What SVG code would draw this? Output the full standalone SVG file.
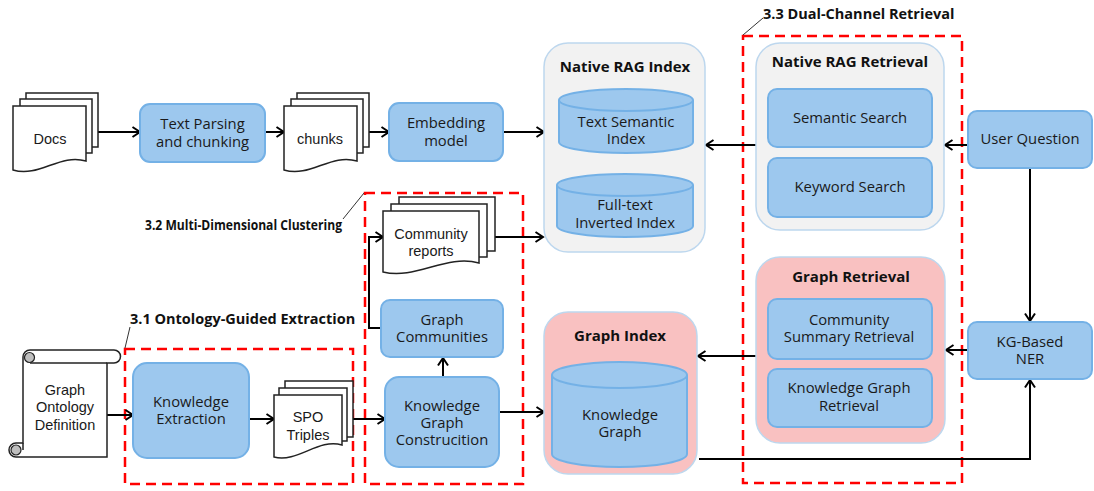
<svg xmlns="http://www.w3.org/2000/svg" width="1094" height="491" viewBox="0 0 1094 491">
<defs>
<style>
.box{fill:#9DC8EE;stroke:#74B1E6;stroke-width:2}
.cont{fill:#F2F2F2;stroke:#BDD7EE;stroke-width:1.5}
.pink{fill:#F9C1C1;stroke:#BDD7EE;stroke-width:1.5}
.doc{fill:#fff;stroke:#222;stroke-width:1.5}
.dash{fill:none;stroke:#FF0000;stroke-width:2.5;stroke-dasharray:10 6}
.t{font-family:"Open Sans","Noto Sans",sans-serif;font-size:14.8px;fill:#1a1a1a;text-anchor:middle}
.b{font-family:"Open Sans","Noto Sans",sans-serif;font-size:15px;font-weight:bold;fill:#111;text-anchor:middle}
.lbl{font-family:"Open Sans","Noto Sans",sans-serif;font-size:14.5px;font-weight:bold;fill:#111}
.d{font-family:"Liberation Sans",Arial,sans-serif;font-size:14.5px;fill:#1a1a1a;text-anchor:middle}
.c{fill:none;stroke:#000;stroke-width:2;marker-end:url(#ah)}
.lead{fill:none;stroke:#333;stroke-width:1}
</style>
<marker id="ah" markerWidth="12" markerHeight="12" refX="10" refY="6" orient="auto" markerUnits="userSpaceOnUse">
<path d="M2.5,1 L10,6 L2.5,11" fill="none" stroke="#000" stroke-width="2"/>
</marker>
</defs>
<rect width="1094" height="491" fill="#fff"/>

<!-- section frames -->
<g id="sections">
<rect class="dash" x="125" y="349" width="228" height="135"/>
<rect class="dash" x="365" y="193" width="158" height="291"/>
<rect class="dash" x="743" y="36" width="219" height="447"/>
<line class="lead" x1="125" y1="348" x2="130" y2="327"/>
<line class="lead" x1="343" y1="219" x2="364" y2="193"/>
<line class="lead" x1="743" y1="35" x2="763" y2="18"/>
<text class="lbl" x="130" y="324">3.1 Ontology-Guided Extraction</text>
<text class="lbl" x="145" y="230" font-size="13.8" textLength="197" lengthAdjust="spacingAndGlyphs">3.2 Multi-Dimensional Clustering</text>
<text class="lbl" x="763" y="19">3.3 Dual-Channel Retrieval</text>
</g>

<!-- connectors -->
<g id="connectors">
<line class="c" x1="98" y1="132" x2="140" y2="132"/>
<line class="c" x1="265" y1="132" x2="284" y2="132"/>
<line class="c" x1="369" y1="132" x2="389" y2="132"/>
<line class="c" x1="503" y1="132" x2="544" y2="132"/>
<line class="c" x1="495" y1="237" x2="543" y2="237"/>
<line class="c" x1="756" y1="145" x2="706" y2="145"/>
<line class="c" x1="968" y1="145" x2="945" y2="145"/>
<line class="c" x1="1030" y1="168" x2="1030" y2="321"/>
<line class="c" x1="968" y1="350" x2="946" y2="350"/>
<line class="c" x1="756" y1="356" x2="698" y2="356"/>
<polyline class="c" points="699,459 1030,459 1030,380"/>
<line class="c" x1="107" y1="415" x2="133" y2="415"/>
<line class="c" x1="249" y1="419" x2="274" y2="419"/>
<line class="c" x1="353" y1="419" x2="385" y2="419"/>
<line class="c" x1="443" y1="377" x2="443" y2="358"/>
<polyline class="c" points="381,328 369,328 369,237 383,237"/>
<line class="c" x1="499" y1="412" x2="544" y2="412"/>
</g>

<g id="docs">
<rect class="doc" x="26" y="93" width="72" height="54"/>
<rect class="doc" x="20" y="99" width="72" height="54"/>
<path class="doc" d="M13,106 H86 V161 C60,153 39,178 13,170 Z"/>
<text class="d" x="50" y="144">Docs</text>
</g>

<g id="text-parsing">
<rect class="box" x="140" y="104" width="125" height="58" rx="10"/>
<text class="t" x="202.5" y="129">Text Parsing</text>
<text class="t" x="202.5" y="147">and chunking</text>
</g>

<g id="chunks">
<rect class="doc" x="297" y="93" width="72" height="54"/>
<rect class="doc" x="291" y="99" width="72" height="54"/>
<path class="doc" d="M284,106 H357 V161 C331,153 310,178 284,170 Z"/>
<text class="d" x="320" y="144">chunks</text>
</g>

<g id="embedding">
<rect class="box" x="389" y="103" width="114" height="58" rx="10"/>
<text class="t" x="446" y="128">Embedding</text>
<text class="t" x="446" y="146">model</text>
</g>

<g id="native-rag-index">
<rect class="cont" x="544" y="43" width="161" height="209" rx="24"/>
<text class="b" x="625" y="72">Native RAG Index</text>
<path class="box" d="M559,100 A67,11 0 0 1 693,100 V142 A67,11 0 0 1 559,142 Z"/>
<path class="box" d="M559,100 A67,11 0 0 0 693,100"/>
<text class="t" x="626" y="127">Text Semantic</text>
<text class="t" x="626" y="144">Index</text>
<path class="box" d="M557,185 A68,11 0 0 1 693,185 V226 A68,11 0 0 1 557,226 Z"/>
<path class="box" d="M557,185 A68,11 0 0 0 693,185"/>
<text class="t" x="625" y="210">Full-text</text>
<text class="t" x="625" y="228">Inverted Index</text>
</g>

<g id="native-rag-retrieval">
<rect class="cont" x="756" y="43" width="188" height="187" rx="24"/>
<text class="b" x="850" y="67">Native RAG Retrieval</text>
<rect class="box" x="768" y="89" width="164" height="58" rx="9"/>
<text class="t" x="850" y="123">Semantic Search</text>
<rect class="box" x="768" y="158" width="164" height="59" rx="9"/>
<text class="t" x="850" y="192">Keyword Search</text>
</g>

<g id="user-question">
<rect class="box" x="968" y="111" width="124" height="57" rx="9"/>
<text class="t" x="1030" y="144">User Question</text>
</g>

<g id="graph-retrieval">
<rect class="pink" x="756" y="257" width="189" height="186" rx="24"/>
<text class="b" x="851" y="282">Graph Retrieval</text>
<rect class="box" x="768" y="299" width="164" height="60" rx="9"/>
<text class="t" x="849" y="325">Community</text>
<text class="t" x="849" y="342">Summary Retrieval</text>
<rect class="box" x="768" y="369" width="164" height="58" rx="9"/>
<text class="t" x="849" y="393">Knowledge Graph</text>
<text class="t" x="849" y="411">Retrieval</text>
</g>

<g id="kg-ner">
<rect class="box" x="968" y="322" width="124" height="57" rx="9"/>
<text class="t" x="1030" y="347">KG-Based</text>
<text class="t" x="1030" y="364">NER</text>
</g>

<g id="graph-index">
<rect class="pink" x="544" y="312" width="153" height="162" rx="24"/>
<text class="b" x="620" y="341">Graph Index</text>
<path class="box" d="M552,375 A67.5,13 0 0 1 687,375 V454 A67.5,13 0 0 1 552,454 Z"/>
<path class="box" d="M552,375 A67.5,13 0 0 0 687,375"/>
<text class="t" x="620" y="420">Knowledge</text>
<text class="t" x="620" y="437">Graph</text>
</g>

<g id="ontology">
<path class="doc" d="M30,350 H114 A6.5,6.5 0 0 1 114,363 H107 V457 H16 A7,7 0 0 1 16,443 H23 V357 A7,7 0 0 1 30,350 Z"/>
<path d="M30,363 H107" fill="none" stroke="#222" stroke-width="1.5"/>
<circle cx="29.5" cy="357.5" r="5" fill="#BFBFBF" stroke="#222" stroke-width="1.2"/>
<circle cx="16" cy="450" r="5" fill="#BFBFBF" stroke="#222" stroke-width="1.2"/>
<path d="M23,443 V450" fill="none" stroke="#222" stroke-width="1.5"/>
<text class="d" x="65" y="395">Graph</text>
<text class="d" x="65" y="412">Ontology</text>
<text class="d" x="65" y="430">Definition</text>
</g>

<g id="knowledge-extraction">
<rect class="box" x="133" y="363" width="116" height="95" rx="14"/>
<text class="t" x="191" y="407">Knowledge</text>
<text class="t" x="191" y="424">Extraction</text>
</g>

<g id="spo-triples">
<rect class="doc" x="285" y="381" width="68" height="56"/>
<rect class="doc" x="279" y="388" width="68" height="53"/>
<path class="doc" d="M274,395 H342 V445 C318,438 298,463 274,457 Z"/>
<text class="d" x="308" y="422">SPO</text>
<text class="d" x="308" y="440">Triples</text>
</g>

<g id="community-reports">
<rect class="doc" x="399" y="197" width="96" height="54"/>
<rect class="doc" x="391" y="204" width="96" height="53"/>
<path class="doc" d="M383,211 H479 V263 C446,254 416,280 383,272 Z"/>
<text class="d" x="431" y="239">Community</text>
<text class="d" x="431" y="256">reports</text>
</g>

<g id="graph-communities">
<rect class="box" x="381" y="300" width="122" height="57" rx="9"/>
<text class="t" x="442" y="325">Graph</text>
<text class="t" x="442" y="342">Communities</text>
</g>

<g id="kg-construction">
<rect class="box" x="385" y="377" width="114" height="90" rx="14"/>
<text class="t" x="442" y="411">Knowledge</text>
<text class="t" x="442" y="428">Graph</text>
<text class="t" x="442" y="445">Construcition</text>
</g>
</svg>
